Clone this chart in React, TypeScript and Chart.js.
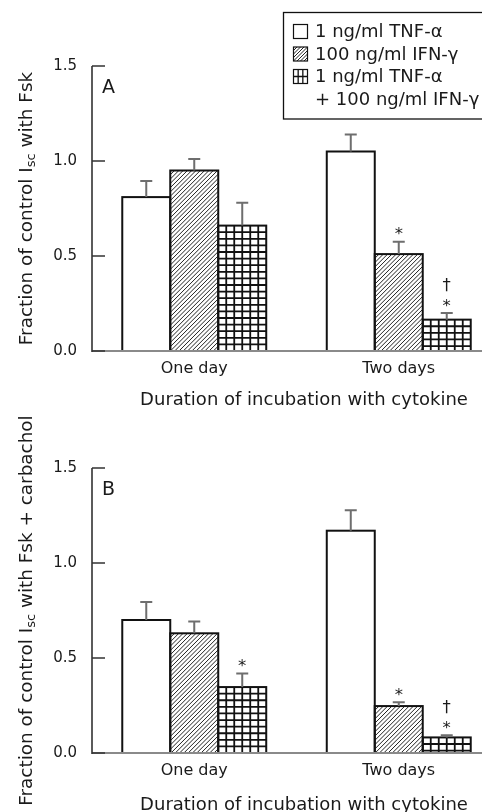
import React, { useEffect, useRef } from "react";
import { Chart, registerables } from "chart.js";

Chart.register(...registerables);

const FONT = "'DejaVu Sans', sans-serif";

const categories = ["One day", "Two days"];
const seriesLabels = ["1 ng/ml TNF-α", "100 ng/ml IFN-γ", "1 ng/ml TNF-α + 100 ng/ml IFN-γ"];
const legendLines = [["1 ng/ml TNF-α"], ["100 ng/ml IFN-γ"], ["1 ng/ml TNF-α", "+ 100 ng/ml IFN-γ"]];
const seriesFill = ["plain", "hatch", "grid"];
const yTickValues = [0, 0.5, 1.0, 1.5];
const xTitle = "Duration of incubation with cytokine";

// Panel A: Isc with Fsk
const aTnf = [0.81, 1.05];
const aIfn = [0.95, 0.51];
const aBoth = [0.66, 0.165];
const aTnfErr = [0.085, 0.09];
const aIfnErr = [0.06, 0.065];
const aBothErr = [0.12, 0.035];
const aTnfMarks = [[], []];
const aIfnMarks = [[], ["*"]];
const aBothMarks = [[], ["*", "†"]];
const aYTitle = ["Fraction of control I", "sc", " with Fsk"];

// Panel B: Isc with Fsk + carbachol
const bTnf = [0.7, 1.17];
const bIfn = [0.63, 0.247];
const bBoth = [0.347, 0.082];
const bTnfErr = [0.095, 0.107];
const bIfnErr = [0.062, 0.02];
const bBothErr = [0.072, 0.011];
const bTnfMarks = [[], []];
const bIfnMarks = [[], ["*"]];
const bBothMarks = [["*"], ["*", "†"]];
const bYTitle = ["Fraction of control I", "sc", " with Fsk + carbachol"];

type PanelCfg = {
  letter: string;
  values: number[][];
  errors: number[][];
  marks: string[][][];
  yTitle: string[];
  showLegend: boolean;
  top: number;
  height: number;
  titleBaseline: number;
};

const PLOT_TOP = 66;
const PLOT_BOTTOM = 351;
const AXIS_X = 92;
const CANVAS_W = 501;

function drawHatch(ctx: CanvasRenderingContext2D, l: number, t: number, r: number, b: number, step: number, lw: number) {
  ctx.save();
  ctx.beginPath();
  ctx.rect(l, t, r - l, b - t);
  ctx.clip();
  ctx.strokeStyle = "#222";
  ctx.lineWidth = lw;
  const h = b - t;
  ctx.beginPath();
  for (let x0 = l - h; x0 < r + step; x0 += step) {
    ctx.moveTo(x0, b);
    ctx.lineTo(x0 + h, t);
  }
  ctx.stroke();
  ctx.restore();
}

function drawGrid(ctx: CanvasRenderingContext2D, l: number, t: number, r: number, b: number, cw: number, ch: number, lw: number) {
  ctx.save();
  ctx.beginPath();
  ctx.rect(l, t, r - l, b - t);
  ctx.clip();
  ctx.strokeStyle = "#111";
  ctx.lineWidth = lw;
  ctx.beginPath();
  for (let x = l + cw; x < r - 0.5; x += cw) {
    ctx.moveTo(x, t);
    ctx.lineTo(x, b);
  }
  for (let y = t + ch; y < b - 0.5; y += ch) {
    ctx.moveTo(l, y);
    ctx.lineTo(r, y);
  }
  ctx.stroke();
  ctx.restore();
}

function makePlugin(cfg: PanelCfg) {
  return {
    id: "panelDecor",
    afterDatasetsDraw(chart: any) {
      const ctx: CanvasRenderingContext2D = chart.ctx;
      const ys = chart.scales.y;
      const ca = chart.chartArea;
      ctx.save();
      chart.data.datasets.forEach((ds: any, i: number) => {
        const meta = chart.getDatasetMeta(i);
        meta.data.forEach((el: any, j: number) => {
          const p = el.getProps(["x", "y", "base", "width"], true);
          const l = p.x - p.width / 2;
          const r = p.x + p.width / 2;
          const t = Math.min(p.y, p.base);
          const b = Math.max(p.y, p.base);
          const fill = seriesFill[i];
          if (fill === "hatch") drawHatch(ctx, l, t, r, b, 4.3, 1);
          else if (fill === "grid") drawGrid(ctx, l, t, r, b, 8, 6.6, 1.8);
          ctx.strokeStyle = "#111";
          ctx.lineWidth = 2;
          ctx.strokeRect(l, t, r - l, b - t);
          // error bar (upper only)
          const v = cfg.values[i][j];
          const e = cfg.errors[i][j];
          const ye = ys.getPixelForValue(v + e);
          ctx.strokeStyle = "#6e6e6e";
          ctx.lineWidth = 2;
          ctx.beginPath();
          ctx.moveTo(p.x, t);
          ctx.lineTo(p.x, ye);
          ctx.moveTo(p.x - 6, ye);
          ctx.lineTo(p.x + 6, ye);
          ctx.stroke();
          // significance marks
          let bottom = ye - 6.5;
          ctx.font = `16.5px ${FONT}`;
          ctx.fillStyle = "#1a1a1a";
          ctx.textAlign = "center";
          ctx.textBaseline = "alphabetic";
          for (const m of cfg.marks[i][j]) {
            const mt = ctx.measureText(m);
            const desc = mt.actualBoundingBoxDescent;
            const asc = mt.actualBoundingBoxAscent;
            ctx.fillText(m, p.x, bottom - desc);
            bottom = bottom - desc - asc - 6.5;
          }
        });
      });
      // x axis line
      const y0 = ys.getPixelForValue(0);
      ctx.strokeStyle = "#8a8a8a";
      ctx.lineWidth = 2;
      ctx.beginPath();
      ctx.moveTo(ca.left, y0);
      ctx.lineTo(ca.right, y0);
      ctx.stroke();
      // y axis line and inward ticks
      ctx.strokeStyle = "#333";
      ctx.lineWidth = 1.6;
      ctx.beginPath();
      ctx.moveTo(ca.left, ca.top);
      ctx.lineTo(ca.left, y0 + 1);
      for (const tv of yTickValues) {
        const ty = ys.getPixelForValue(tv);
        ctx.moveTo(ca.left, ty);
        ctx.lineTo(ca.left + 13, ty);
      }
      ctx.stroke();
      ctx.restore();
    },
    afterDraw(chart: any) {
      const ctx: CanvasRenderingContext2D = chart.ctx;
      const ca = chart.chartArea;
      ctx.save();
      ctx.fillStyle = "#1a1a1a";
      // panel letter
      ctx.font = `19px ${FONT}`;
      ctx.textAlign = "left";
      ctx.textBaseline = "alphabetic";
      ctx.fillText(cfg.letter, 102, ca.top + 26.5);
      // x title
      ctx.font = `18px ${FONT}`;
      ctx.textAlign = "center";
      ctx.fillText(xTitle, 304, cfg.titleBaseline);
      // y title with subscript
      const [p1, sub, p3] = cfg.yTitle;
      ctx.font = `18.4px ${FONT}`;
      const w1 = ctx.measureText(p1).width;
      const w3 = ctx.measureText(p3).width;
      ctx.font = `13px ${FONT}`;
      const w2 = ctx.measureText(sub).width;
      const total = w1 + w2 + w3;
      ctx.translate(32, (ca.top + ca.bottom) / 2);
      ctx.rotate(-Math.PI / 2);
      ctx.textAlign = "left";
      let sx = -total / 2;
      ctx.font = `18.4px ${FONT}`;
      ctx.fillText(p1, sx, 0);
      sx += w1;
      ctx.font = `13px ${FONT}`;
      ctx.fillText(sub, sx, 3);
      sx += w2;
      ctx.font = `18.4px ${FONT}`;
      ctx.fillText(p3, sx, 0);
      ctx.restore();

      if (cfg.showLegend) {
        ctx.save();
        ctx.strokeStyle = "#111";
        ctx.lineWidth = 1.3;
        ctx.strokeRect(283.5, 12.5, 215, 106.5);
        const rowY = [31.5, 54, 76.5, 99];
        let row = 0;
        ctx.font = `18px ${FONT}`;
        ctx.textAlign = "left";
        ctx.textBaseline = "middle";
        legendLines.forEach((lines, i) => {
          const cy = rowY[row];
          const l = 293.5, t = cy - 7, s = 14;
          ctx.fillStyle = "#fff";
          ctx.fillRect(l, t, s, s);
          if (seriesFill[i] === "hatch") drawHatch(ctx, l, t, l + s, t + s, 3.5, 1);
          else if (seriesFill[i] === "grid") drawGrid(ctx, l, t, l + s, t + s, s / 3, s / 2, 1.3);
          ctx.strokeStyle = "#111";
          ctx.lineWidth = 1.2;
          ctx.strokeRect(l, t, s, s);
          ctx.fillStyle = "#1a1a1a";
          lines.forEach((ln) => {
            ctx.fillText(ln, 315, rowY[row] + 1);
            row++;
          });
        });
        ctx.restore();
      }
    },
  };
}

function Panel({ cfg }: { cfg: PanelCfg }) {
  const ref = useRef<HTMLCanvasElement | null>(null);
  useEffect(() => {
    if (!ref.current) return;
    const chart = new Chart(ref.current, {
      type: "bar",
      data: {
        labels: categories,
        datasets: seriesLabels.map((label, i) => ({
          label,
          data: cfg.values[i],
          backgroundColor: "#ffffff",
          borderWidth: 0,
          barPercentage: 1.0,
          categoryPercentage: 0.704,
        })),
      },
      options: {
        animation: false,
        responsive: false,
        devicePixelRatio: 1,
        layout: { padding: { top: PLOT_TOP, left: 0, right: 0, bottom: 0 } },
        plugins: { legend: { display: false }, tooltip: { enabled: false }, title: { display: false } },
        scales: {
          x: {
            type: "category",
            offset: true,
            grid: { display: false },
            border: { display: false },
            ticks: { font: { family: FONT, size: 16 }, color: "#1a1a1a", padding: 0, maxRotation: 0 },
            afterFit: (s: any) => {
              s.height = cfg.height - PLOT_BOTTOM;
            },
          },
          y: {
            min: 0,
            max: 1.5,
            grid: { display: false },
            border: { display: false },
            afterBuildTicks: (s: any) => {
              s.ticks = yTickValues.map((v) => ({ value: v }));
            },
            ticks: {
              font: { family: FONT, size: 15 },
              color: "#1a1a1a",
              padding: 7,
              callback: (v: any) => Number(v).toFixed(1),
            },
            afterFit: (s: any) => {
              s.width = AXIS_X;
            },
          },
        },
      },
      plugins: [makePlugin(cfg)],
    } as any);
    return () => chart.destroy();
  }, [cfg]);
  return (
    <canvas
      ref={ref}
      width={CANVAS_W}
      height={cfg.height}
      style={{ display: "block", position: "absolute", left: 0, top: cfg.top }}
    />
  );
}

const cfgA: PanelCfg = {
  letter: "A",
  values: [aTnf, aIfn, aBoth],
  errors: [aTnfErr, aIfnErr, aBothErr],
  marks: [aTnfMarks, aIfnMarks, aBothMarks],
  yTitle: aYTitle,
  showLegend: true,
  top: 0,
  height: 412,
  titleBaseline: 405,
};

const cfgB: PanelCfg = {
  letter: "B",
  values: [bTnf, bIfn, bBoth],
  errors: [bTnfErr, bIfnErr, bBothErr],
  marks: [bTnfMarks, bIfnMarks, bBothMarks],
  yTitle: bYTitle,
  showLegend: false,
  top: 402,
  height: 410,
  titleBaseline: 408,
};

export default function App() {
  return (
    <div style={{ position: "absolute", left: 0, top: 0, width: 482, height: 812, overflow: "hidden", background: "#fff" }}>
      <Panel cfg={cfgA} />
      <Panel cfg={cfgB} />
    </div>
  );
}
